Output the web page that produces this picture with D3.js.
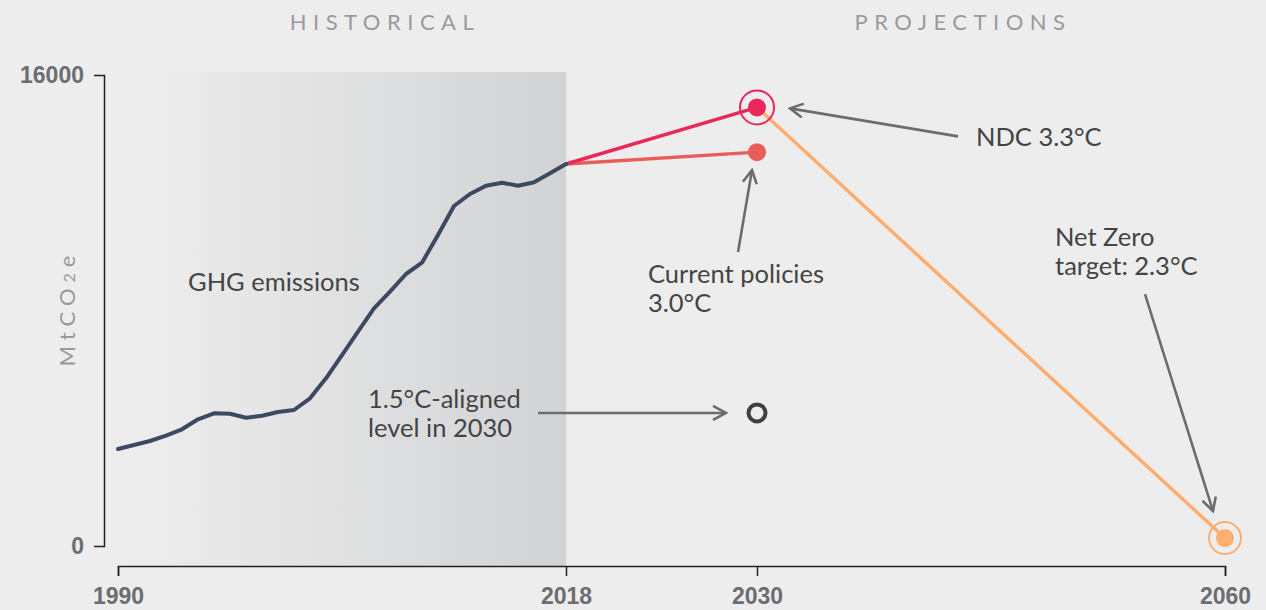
<!DOCTYPE html>
<html>
<head>
<meta charset="utf-8">
<script src="https://cdn.jsdelivr.net/npm/d3@7"></script>
<style>
  html, body { margin: 0; padding: 0; background: #ededed; }
  svg { display: block; font-family: Lato, "Open Sans", sans-serif; }
  .tick text { font-weight: bold; fill: #6b6d70; font-size: 23px; }
  .axis path, .axis line { stroke: #222; stroke-width: 1.5; }
  .note { fill: #444; font-size: 25.5px; }
  .header { fill: #9a9a9a; font-size: 22px; letter-spacing: 6.5px; }
</style>
</head>
<body>
<div id="chart"></div>
<script>
// data
var histYears = [1990, 1991, 1992, 1993, 1994, 1995, 1996, 1997, 1998, 1999, 2000, 2001, 2002, 2003,
  2004, 2005, 2006, 2007, 2008, 2009, 2010, 2011, 2012, 2013, 2014, 2015, 2016, 2017, 2018];
var histValues = [3295, 3430, 3567, 3747, 3964, 4304, 4508, 4494, 4358, 4426, 4552, 4620, 5017, 5697,
  6488, 7280, 8075, 8639, 9240, 9624, 10565, 11550, 11958, 12240, 12341, 12240, 12355, 12661, 12977];
var ndcValue = 14900;          // 2030
var currentPolicyValue = 13380; // 2030
var alignedValue = 4520;        // 1.5°C level 2030
var netZeroValue = 270;         // 2060
var xTicks = [1990, 2018, 2030, 2060];
var yTicks = [0, 16000];

var width = 1266, height = 610;

var svg = d3.select("#chart").append("svg")
  .attr("width", width)
  .attr("height", height);

var x = d3.scaleLinear()
  .domain([1990, 2018, 2030, 2060])
  .range([118, 566, 757, 1225]);

var y = d3.scaleLinear()
  .domain([0, 16000])
  .range([546, 75]);

// historical shade
var grad = svg.append("defs").append("linearGradient")
  .attr("id", "histGrad")
  .attr("x1", "0%").attr("x2", "100%").attr("y1", "0%").attr("y2", "0%");
grad.append("stop").attr("offset", "0%").attr("stop-color", "#ededed");
grad.append("stop").attr("offset", "8%").attr("stop-color", "#ececec");
grad.append("stop").attr("offset", "100%").attr("stop-color", "#d2d3d5");

svg.append("rect")
  .attr("x", x(1990))
  .attr("y", y(16000) - 3)
  .attr("width", x(2018) - x(1990))
  .attr("height", 566 - y(16000) + 3)
  .attr("fill", "url(#histGrad)");

// headers
svg.append("text").attr("class", "header")
  .attr("x", 385).attr("y", 30)
  .attr("text-anchor", "middle")
  .text("HISTORICAL");
svg.append("text").attr("class", "header")
  .attr("x", 963).attr("y", 30)
  .attr("text-anchor", "middle")
  .text("PROJECTIONS");

// axes
svg.append("g").attr("class", "axis")
  .attr("transform", "translate(104,0)")
  .call(d3.axisLeft(y).tickValues(yTicks).tickSize(10).tickSizeOuter(10).tickPadding(10).tickFormat(d3.format("d")))
  .call(function(g) { g.selectAll(".tick line").remove(); });

svg.append("g").attr("class", "axis")
  .attr("transform", "translate(0,566)")
  .call(d3.axisBottom(x).tickValues(xTicks).tickSize(10).tickSizeOuter(10).tickPadding(12).tickFormat(d3.format("d")));

// y label
svg.append("text")
  .attr("transform", "translate(75,308) rotate(-90)")
  .attr("text-anchor", "middle")
  .attr("fill", "#9a9a9a")
  .style("font-size", "22px")
  .style("letter-spacing", "6px")
  .html('MtCO<tspan font-size="16px">2</tspan>e');

// projection lines
var lastYear = histYears[histYears.length - 1];
var lastVal = histValues[histValues.length - 1];

svg.append("line")
  .attr("x1", x(lastYear)).attr("y1", y(lastVal))
  .attr("x2", x(2030)).attr("y2", y(currentPolicyValue))
  .attr("stroke", "#e85c5a").attr("stroke-width", 3.5);

svg.append("line")
  .attr("x1", x(2030)).attr("y1", y(ndcValue))
  .attr("x2", x(2060)).attr("y2", y(netZeroValue))
  .attr("stroke", "#ffae70").attr("stroke-width", 3.5);

svg.append("line")
  .attr("x1", x(lastYear)).attr("y1", y(lastVal))
  .attr("x2", x(2030)).attr("y2", y(ndcValue))
  .attr("stroke", "#e8285a").attr("stroke-width", 3.5);

// historical line
var line = d3.line()
  .x(function(d, i) { return x(histYears[i]); })
  .y(function(d) { return y(d); });

svg.append("path")
  .datum(histValues)
  .attr("d", line)
  .attr("fill", "none")
  .attr("stroke", "#3c4961")
  .attr("stroke-width", 4)
  .attr("stroke-linejoin", "round")
  .attr("stroke-linecap", "round");

// points
svg.append("circle").attr("cx", x(2030)).attr("cy", y(ndcValue)).attr("r", 17)
  .attr("fill", "none").attr("stroke", "#e8285a").attr("stroke-width", 2);
svg.append("circle").attr("cx", x(2030)).attr("cy", y(ndcValue)).attr("r", 9)
  .attr("fill", "#e8285a");
svg.append("circle").attr("cx", x(2030)).attr("cy", y(currentPolicyValue)).attr("r", 9)
  .attr("fill", "#e85c5a");
svg.append("circle").attr("cx", x(2030)).attr("cy", y(alignedValue)).attr("r", 8.5)
  .attr("fill", "none").attr("stroke", "#3f3f3f").attr("stroke-width", 4);
svg.append("circle").attr("cx", x(2060)).attr("cy", y(netZeroValue)).attr("r", 16)
  .attr("fill", "none").attr("stroke", "#ffae70").attr("stroke-width", 2);
svg.append("circle").attr("cx", x(2060)).attr("cy", y(netZeroValue)).attr("r", 9)
  .attr("fill", "#ffae70");

// arrows
svg.append("defs").append("marker")
  .attr("id", "arrow")
  .attr("viewBox", "0 0 16 16")
  .attr("refX", 14).attr("refY", 8)
  .attr("markerWidth", 16).attr("markerHeight", 16)
  .attr("markerUnits", "userSpaceOnUse")
  .attr("orient", "auto")
  .append("path")
  .attr("d", "M1,1 L14,8 L1,15")
  .attr("fill", "none")
  .attr("stroke", "#6a6c70")
  .attr("stroke-width", 2.6);

function arrow(x1, y1, x2, y2) {
  svg.append("line")
    .attr("x1", x1).attr("y1", y1).attr("x2", x2).attr("y2", y2)
    .attr("stroke", "#6a6c70").attr("stroke-width", 2.6)
    .attr("marker-end", "url(#arrow)");
}

var ndcX = x(2030), ndcY = y(ndcValue);
arrow(ndcX + 201, ndcY + 29, ndcX + 33, ndcY + 1);
var cpX = x(2030), cpY = y(currentPolicyValue);
arrow(cpX - 19, cpY + 100, cpX - 5, cpY + 18);
var alX = x(2030), alY = y(alignedValue);
arrow(alX - 219, alY, alX - 31, alY);
var nzX = x(2060), nzY = y(netZeroValue);
arrow(nzX - 80, nzY - 244, nzX - 12, nzY - 27);

// labels
function note(px, py, lines) {
  var t = svg.append("text").attr("class", "note").attr("x", px).attr("y", py);
  lines.forEach(function(s, i) {
    t.append("tspan").attr("x", px).attr("dy", i === 0 ? 0 : 29).text(s);
  });
}
note(188, 291, ["GHG emissions"]);
note(368, 408, ["1.5°C-aligned", "level in 2030"]);
note(976, 146, ["NDC 3.3°C"]);
note(648, 283, ["Current policies", "3.0°C"]);
note(1055, 246, ["Net Zero", "target: 2.3°C"]);
</script>
</body>
</html>
